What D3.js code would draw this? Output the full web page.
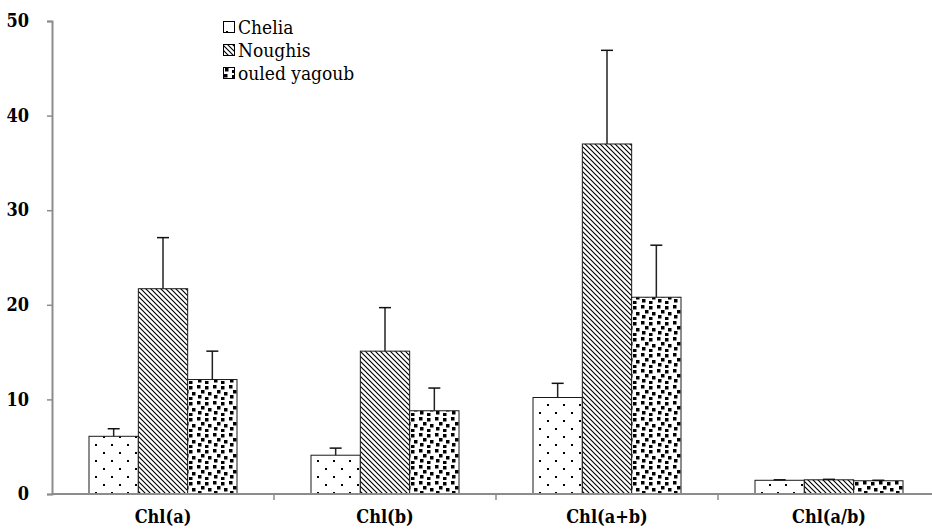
<!DOCTYPE html>
<html>
<head>
<meta charset="utf-8">
<script src="https://cdn.jsdelivr.net/npm/d3@7"></script>
<style>
  html, body { margin: 0; padding: 0; background: #fff; }
  svg { display: block; }
</style>
</head>
<body>
<svg id="chart" width="932" height="529"></svg>
<script>
// Chlorophyll content by site
const categories = ["Chl(a)", "Chl(b)", "Chl(a+b)", "Chl(a/b)"];
const seriesNames = ["Chelia", "Noughis", "ouled yagoub"];
const chelia      = [6.1, 4.1, 10.2, 1.45];
const cheliaErr   = [0.8, 0.75, 1.5, 0.05];
const noughis     = [21.7, 15.1, 37.0, 1.5];
const noughisErr  = [5.4, 4.6, 9.9, 0.05];
const ouled       = [12.1, 8.8, 20.8, 1.4];
const ouledErr    = [3.0, 2.4, 5.5, 0.05];
const yTicks      = [0, 10, 20, 30, 40, 50];

const FONT = "DejaVu Serif Condensed, DejaVu Serif, serif";

const seriesValues = [chelia, noughis, ouled];
const seriesErrors = [cheliaErr, noughisErr, ouledErr];
const patternIds = ["pat-dots", "pat-diag", "pat-confetti"];

const svg = d3.select("#chart");
const defs = svg.append("defs");

// Sparse dot fill
const pDots = defs.append("pattern").attr("id", "pat-dots")
  .attr("patternUnits", "userSpaceOnUse").attr("width", 16).attr("height", 16);
pDots.append("rect").attr("width", 16).attr("height", 16).attr("fill", "#fff");
[[3, 4], [11, 12]].forEach(([x, y]) =>
  pDots.append("rect").attr("x", x).attr("y", y).attr("width", 2).attr("height", 2).attr("fill", "#000"));

// Downward diagonal stripes
const pDiag = defs.append("pattern").attr("id", "pat-diag")
  .attr("patternUnits", "userSpaceOnUse").attr("width", 5).attr("height", 5);
pDiag.append("rect").attr("width", 5).attr("height", 5).attr("fill", "#fff");
pDiag.append("path").attr("d", "M-1,-1 L6,6 M-1,4 L1,6 M4,-1 L6,1")
  .attr("stroke", "#000").attr("stroke-width", 1.15);

// Scattered square confetti
const pConf = defs.append("pattern").attr("id", "pat-confetti")
  .attr("patternUnits", "userSpaceOnUse").attr("width", 16).attr("height", 16);
pConf.append("rect").attr("width", 16).attr("height", 16).attr("fill", "#fff");
[[1, 1], [9, 2], [5, 6], [12, 8], [2, 11], [9, 13]].forEach(([x, y]) =>
  pConf.append("rect").attr("x", x).attr("y", y).attr("width", 3.5).attr("height", 3.5).attr("fill", "#000"));

// Scales
const x0 = d3.scaleBand().domain(categories).range([52, 940]).paddingInner(0).paddingOuter(0);
const x1 = d3.scaleBand().domain(seriesNames).range([37, x0.bandwidth() - 37]);
const y = d3.scaleLinear().domain([0, 50]).range([494, 21]);

// Y axis
const yAxis = svg.append("g").attr("transform", "translate(52,0)")
  .call(d3.axisLeft(y).tickValues(yTicks).tickSize(5).tickPadding(18).tickFormat(d3.format("d")));
yAxis.attr("font-family", null);
yAxis.select(".domain").attr("stroke", "#8c8c8c").attr("stroke-width", 2);
yAxis.selectAll(".tick line").attr("stroke", "#8c8c8c").attr("stroke-width", 1.5);
yAxis.selectAll(".tick text").style("font-family", FONT)
  .attr("font-size", 18).attr("font-weight", "bold").attr("fill", "#000");

// Bars
const groups = svg.append("g").selectAll("g").data(categories).join("g")
  .attr("transform", d => `translate(${x0(d)},0)`);

seriesNames.forEach((s, si) => {
  groups.append("rect")
    .attr("x", x1(s))
    .attr("y", (d, i) => y(seriesValues[si][i]))
    .attr("width", x1.bandwidth())
    .attr("height", (d, i) => y(0) - y(seriesValues[si][i]))
    .attr("fill", `url(#${patternIds[si]})`)
    .attr("stroke", "#1a1a1a").attr("stroke-width", 1);
});

// Error bars (upper only, capped)
seriesNames.forEach((s, si) => {
  const cx = x1(s) + x1.bandwidth() / 2;
  groups.append("line")
    .attr("x1", cx).attr("x2", cx)
    .attr("y1", (d, i) => y(seriesValues[si][i]))
    .attr("y2", (d, i) => y(seriesValues[si][i] + seriesErrors[si][i]))
    .attr("stroke", "#222").attr("stroke-width", 1.5);
  groups.append("line")
    .attr("x1", cx - 6).attr("x2", cx + 6)
    .attr("y1", (d, i) => y(seriesValues[si][i] + seriesErrors[si][i]))
    .attr("y2", (d, i) => y(seriesValues[si][i] + seriesErrors[si][i]))
    .attr("stroke", "#111").attr("stroke-width", 1.5);
});

// X axis with ticks between categories
const xAxisG = svg.append("g").attr("transform", `translate(0,${y(0)})`);
xAxisG.append("line").attr("x1", 52).attr("x2", 940).attr("y1", 0).attr("y2", 0)
  .attr("stroke", "#8c8c8c").attr("stroke-width", 2);
xAxisG.selectAll("line.sep").data(categories.slice(1)).join("line").attr("class", "sep")
  .attr("x1", d => x0(d)).attr("x2", d => x0(d)).attr("y1", 0).attr("y2", 6)
  .attr("stroke", "#8c8c8c").attr("stroke-width", 1.5);
xAxisG.selectAll("text").data(categories).join("text")
  .attr("x", d => x0(d) + x1(seriesNames[1]) + x1.bandwidth() / 2)
  .attr("y", 29)
  .attr("text-anchor", "middle")
  .style("font-family", FONT)
  .attr("font-size", 18).attr("font-weight", "bold").attr("fill", "#000")
  .text(d => d);

// Legend
const legend = svg.append("g").attr("transform", "translate(223,27)");
seriesNames.forEach((s, i) => {
  const row = legend.append("g").attr("transform", `translate(0,${i * 23})`);
  row.append("rect").attr("x", 0.5).attr("y", -5.5).attr("width", 11).attr("height", 11)
    .attr("fill", `url(#${patternIds[i]})`).attr("stroke", "#000").attr("stroke-width", 1);
  row.append("text").attr("x", 15).attr("y", 6.5)
    .style("font-family", FONT)
    .attr("font-size", 19).attr("fill", "#000").text(s);
});
</script>
</body>
</html>
